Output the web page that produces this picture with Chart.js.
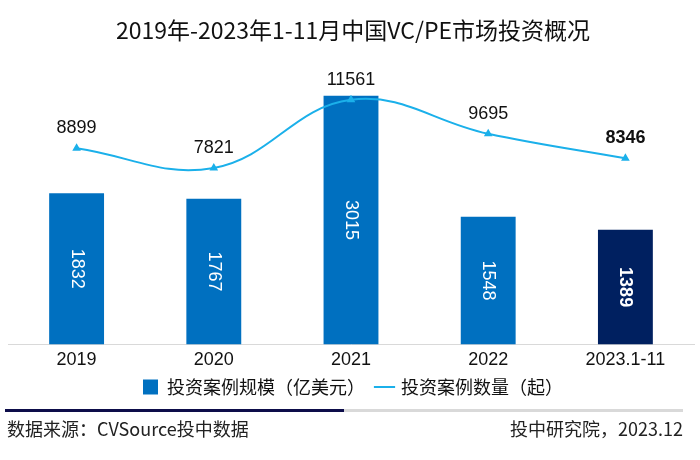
<!DOCTYPE html>
<html>
<head>
<meta charset="utf-8">
<script src="https://cdn.jsdelivr.net/npm/chart.js@4"></script>
<style>
  html, body { margin: 0; padding: 0; background: #fff; }
  #wrap { position: relative; width: 700px; height: 460px; }
  #footer-line-dark { position: absolute; left: 5px; top: 409px; width: 339px; height: 3px; background: #0d0d4a; }
  #footer-line-grey { position: absolute; left: 344px; top: 409px; width: 339px; height: 3px; background: #d9d9d9; }
  .foot { position: absolute; top: 417px; font: 18px "Noto Sans CJK SC", sans-serif; color: #222; line-height: 22px; }
  #src { left: 7px; }
  #org { right: 17px; }
</style>
</head>
<body>
<div id="wrap">
  <canvas id="vcpeChart" width="700" height="460"></canvas>
  <div id="footer-line-dark"></div>
  <div id="footer-line-grey"></div>
  <div class="foot" id="src">数据来源：CVSource投中数据</div>
  <div class="foot" id="org">投中研究院，2023.12</div>
</div>
<script>
// === DATOS ===
const years = ['2019', '2020', '2021', '2022', '2023.1-11'];
const amountUsd = [1832, 1767, 3015, 1548, 1389];   // 投资案例规模（亿美元）
const dealCount = [8899, 7821, 11561, 9695, 8346];  // 投资案例数量（起）

const barBlue = '#0070C0';
const barNavy = '#002060';
const lineBlue = '#1BB0EA';

// etiquetas de valores dibujadas encima de barras y puntos
const valueLabels = {
  id: 'valueLabels',
  afterDatasetsDraw(chart) {
    const ctx = chart.ctx;
    const last = years.length - 1;

    // barras (dataset 1): texto girado, blanco, centrado
    chart.getDatasetMeta(1).data.forEach((bar, i) => {
      ctx.save();
      ctx.translate(bar.x, (bar.y + bar.base) / 2);
      ctx.rotate(Math.PI / 2);
      ctx.font = (i === last ? 'bold ' : '') + '18px "Liberation Sans", Arial, sans-serif';
      ctx.fillStyle = '#fff';
      ctx.textAlign = 'center';
      ctx.textBaseline = 'middle';
      ctx.fillText(String(amountUsd[i]), 0, 0);
      ctx.restore();
    });

    // línea (dataset 0): texto encima del punto
    chart.getDatasetMeta(0).data.forEach((pt, i) => {
      ctx.save();
      ctx.font = (i === last ? 'bold ' : '') + '18px "Liberation Sans", Arial, sans-serif';
      ctx.fillStyle = '#111';
      ctx.textAlign = 'center';
      ctx.textBaseline = 'middle';
      ctx.fillText(String(dealCount[i]), pt.x, pt.y - 20);
      ctx.restore();
    });
  }
};

const ctx = document.getElementById('vcpeChart').getContext('2d');

new Chart(ctx, {
  data: {
    labels: years,
    datasets: [
      {
        type: 'line',
        label: '投资案例数量（起）',
        data: dealCount,
        yAxisID: 'yCount',
        borderColor: lineBlue,
        backgroundColor: lineBlue,
        borderWidth: 2,
        tension: 0.4,
        pointStyle: 'triangle',
        pointRadius: 3,
        order: 0
      },
      {
        type: 'bar',
        label: '投资案例规模（亿美元）',
        data: amountUsd,
        yAxisID: 'yAmount',
        backgroundColor: amountUsd.map((v, i) => i === years.length - 1 ? barNavy : barBlue),
        categoryPercentage: 1,
        barPercentage: 0.4,
        order: 1
      }
    ]
  },
  options: {
    responsive: false,
    animation: false,
    layout: { padding: { left: 8, right: 2, top: 0, bottom: 54 } },
    scales: {
      x: {
        grid: { display: false, drawTicks: false },
        border: { color: '#d9d9d9', width: 1 },
        ticks: {
          color: '#111',
          padding: 5,
          font: { size: 18, family: '"Liberation Sans", Arial, sans-serif' }
        },
        afterFit(scale) { scale.height -= 10; }
      },
      yAmount: { display: false, min: 0, max: 3526 },
      yCount: { display: false, min: -1860, max: 14091 }
    },
    plugins: {
      title: {
        display: true,
        text: '2019年-2023年1-11月中国VC/PE市场投资概况',
        color: '#111',
        font: { size: 23, weight: 'normal', family: '"Noto Sans CJK SC", sans-serif' },
        padding: { top: 16, bottom: 10 }
      },
      legend: {
        position: 'bottom',
        reverse: true,
        labels: {
          color: '#111',
          font: { size: 18, family: '"Noto Sans CJK SC", sans-serif' },
          usePointStyle: true,
          boxWidth: 15,
          boxHeight: 15,
          padding: 12,
          generateLabels(chart) {
            const items = Chart.defaults.plugins.legend.labels.generateLabels(chart);
            items.forEach(it => {
              if (it.datasetIndex === 1) {
                it.pointStyle = 'rect';
                it.fillStyle = barBlue;
                it.strokeStyle = barBlue;
                it.lineWidth = 0;
              } else {
                it.pointStyle = 'line';
                it.strokeStyle = lineBlue;
                it.lineWidth = 2;
              }
            });
            return items;
          }
        }
      },
      tooltip: { enabled: false }
    }
  },
  plugins: [valueLabels]
});
</script>
</body>
</html>
